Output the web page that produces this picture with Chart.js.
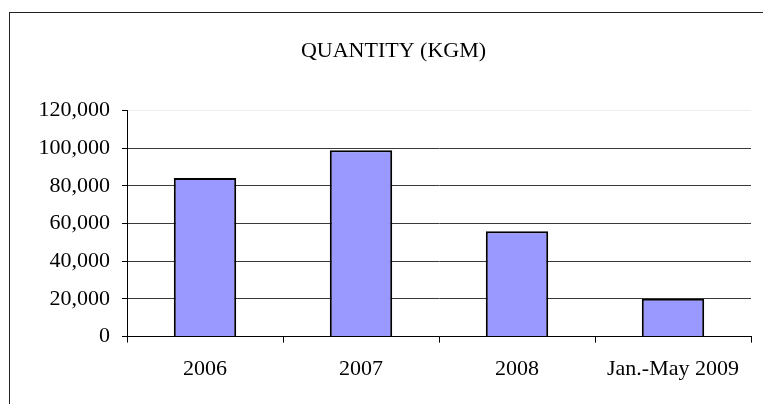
<!DOCTYPE html>
<html>
<head>
<meta charset="utf-8">
<script src="https://cdn.jsdelivr.net/npm/chart.js@4"></script>
<style>
  body { margin: 0; background: #fff; overflow: hidden; }
  #frame {
    position: absolute;
    left: 9px;
    top: 12px;
    width: 768px;
    height: 400px;
    border: 1px solid #222;
    background: #fff;
  }
</style>
</head>
<body>
<div id="frame"><canvas id="qtyChart" width="768" height="392"></canvas></div>
<script>
// data
const categories = ["2006", "2007", "2008", "Jan.-May 2009"];
const quantityKgm = [84200, 98800, 55900, 20100];
const yTicks = [0, 20000, 40000, 60000, 80000, 100000, 120000];

const serif = "'Liberation Serif', 'Times New Roman', serif";

var ctx = document.getElementById("qtyChart").getContext("2d");
var qtyChart = new Chart(ctx, {
  type: "bar",
  data: {
    labels: categories,
    datasets: [
      {
        label: "QUANTITY (KGM)",
        data: quantityKgm,
        backgroundColor: "#9999FF",
        borderColor: "#000000",
        borderWidth: 2,
        barPercentage: 0.4,
        categoryPercentage: 1,
      },
    ],
  },
  options: {
    responsive: false,
    animation: false,
    devicePixelRatio: 1,
    layout: {
      padding: { left: 26, right: 27, top: 0, bottom: 10 },
    },
    plugins: {
      legend: { display: false },
      tooltip: { enabled: false },
      title: {
        display: true,
        text: "QUANTITY (KGM)",
        color: "#000",
        font: { family: serif, size: 22, weight: "normal" },
        padding: { top: 25, bottom: 46 },
      },
    },
    scales: {
      x: {
        grid: {
          offset: true,
          drawOnChartArea: false,
          drawTicks: true,
          tickLength: 6,
          color: "#000",
        },
        border: { color: "#000", width: 1 },
        ticks: {
          color: "#000",
          padding: 13,
          font: { family: serif, size: 22 },
        },
      },
      y: {
        min: 0,
        max: 120000,
        afterFit: function (scale) {
          scale.width = 91;
        },
        afterBuildTicks: function (scale) {
          scale.ticks = yTicks.map((v) => ({ value: v }));
        },
        grid: {
          color: function (c) {
            return c.tick && c.tick.value === 120000 ? "#eeeeee" : "#3a3a3a";
          },
          tickColor: "#000",
          tickLength: 5,
        },
        border: { color: "#000", width: 1 },
        ticks: {
          color: "#000",
          padding: 12,
          font: { family: serif, size: 22 },
          callback: function (v) {
            return v.toLocaleString("en-US");
          },
        },
      },
    },
  },
});
</script>
</body>
</html>
